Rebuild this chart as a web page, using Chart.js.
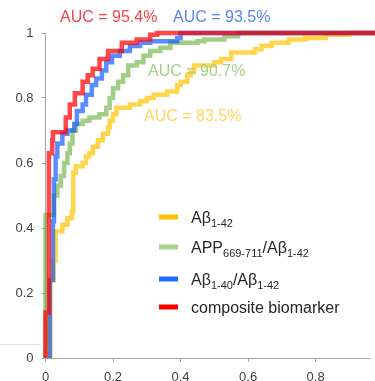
<!DOCTYPE html>
<html>
<head>
<meta charset="utf-8">
<script src="https://cdn.jsdelivr.net/npm/chart.js@4/dist/chart.umd.min.js"></script>
<style>
  html, body { margin: 0; padding: 0; background: #fff; }
  #wrap { width: 375px; height: 381px; }
</style>
</head>
<body>
<div id="wrap"><canvas id="roc" width="375" height="381"></canvas></div>
<script>
// ROC curves, [false positive rate, true positive rate], corners of each step
const compositePts = [[0,0],[0,0.14],[0.01,0.63],[0.02,0.67],[0.022,0.695],[0.06,0.74],[0.072,0.78],[0.087,0.815],
    [0.11,0.85],[0.125,0.87],[0.14,0.89],[0.16,0.92],[0.185,0.945],[0.226,0.97],[0.27,0.98],[0.31,0.995],[0.33,1],[0.99,1]];
const ratio4042Pts = [[0.013,0],[0.013,0.24],[0.022,0.42],[0.025,0.55],[0.03,0.62],[0.035,0.66],[0.05,0.69],[0.065,0.7],
    [0.085,0.72],[0.093,0.76],[0.11,0.78],[0.12,0.81],[0.137,0.84],[0.15,0.86],[0.167,0.885],[0.18,0.91],[0.197,0.93],
    [0.22,0.945],[0.25,0.96],[0.28,0.97],[0.31,0.975],[0.39,0.985],[0.4,1],[0.99,1]];
const appRatioPts = [[0,0],[0,0.44],[0.025,0.5],[0.035,0.53],[0.045,0.56],[0.055,0.6],[0.065,0.63],[0.072,0.66],[0.08,0.7],
    [0.09,0.72],[0.11,0.73],[0.13,0.74],[0.16,0.75],[0.18,0.77],[0.19,0.8],[0.2,0.83],[0.215,0.85],[0.23,0.87],[0.245,0.9],
    [0.27,0.91],[0.29,0.93],[0.31,0.945],[0.34,0.955],[0.37,0.97],[0.45,0.975],[0.47,0.98],[0.53,0.99],[0.57,1],[0.99,1]];
const ab42Pts = [[0.014,0],[0.014,0.24],[0.024,0.3],[0.03,0.39],[0.05,0.41],[0.065,0.43],[0.078,0.45],[0.082,0.57],[0.09,0.59],[0.11,0.6],[0.12,0.62],
    [0.13,0.63],[0.14,0.65],[0.155,0.67],[0.17,0.69],[0.185,0.71],[0.19,0.73],[0.2,0.75],[0.21,0.77],[0.25,0.78],[0.28,0.79],
    [0.3,0.8],[0.32,0.81],[0.36,0.82],[0.39,0.84],[0.4,0.85],[0.42,0.87],[0.43,0.88],[0.44,0.9],[0.5,0.91],[0.52,0.92],
    [0.55,0.94],[0.62,0.95],[0.64,0.96],[0.67,0.97],[0.72,0.98],[0.77,0.985],[0.83,0.995],[0.9,1],[0.99,1]];

const xTicks = [0, 0.2, 0.4, 0.6, 0.8];
const yTicks = [0, 0.2, 0.4, 0.6, 0.8, 1];

// AUC labels: text, colour, left x, centre y (px)
const aucLabels = [
    ['AUC = 95.4%', '#f2474c', 60, 18],
    ['AUC = 93.5%', '#5a82f4', 173, 18],
    ['AUC = 90.7%', '#a4d08a', 148, 72],
    ['AUC = 83.5%', '#ffd45e', 144, 117]
];

// legend entries: pieces of [text, isSubscript]
const legendItems = [
    { color: '#ffc000', parts: [['Aβ', 0], ['1-42', 1]] },
    { color: '#a9d18e', parts: [['APP', 0], ['669-711', 1], ['/Aβ', 0], ['1-42', 1]] },
    { color: '#1f6fff', parts: [['Aβ', 0], ['1-40', 1], ['/Aβ', 0], ['1-42', 1]] },
    { color: '#ff0000', parts: [['composite biomarker', 0]] }
];
const legendRows = [217, 247, 279, 307];

const FONT = '"Liberation Sans", Arial, sans-serif';

const toXY = pts => pts.map(p => ({ x: p[0], y: p[1] }));

const overlayPlugin = {
    id: 'overlay',
    afterDraw(chart) {
        const ctx = chart.ctx;
        ctx.save();
        // faint rule left of the origin
        ctx.strokeStyle = '#e4e4e4';
        ctx.lineWidth = 1;
        ctx.beginPath();
        ctx.moveTo(0, 344.5);
        ctx.lineTo(41, 344.5);
        ctx.stroke();

        ctx.textBaseline = 'middle';
        ctx.textAlign = 'left';
        ctx.font = '16px ' + FONT;
        aucLabels.forEach(a => {
            ctx.fillStyle = a[1];
            ctx.fillText(a[0], a[2], a[3]);
        });

        legendItems.forEach((item, i) => {
            const y = legendRows[i];
            ctx.fillStyle = item.color;
            ctx.fillRect(159, y - 2.5, 19, 5);
            let x = 191;
            ctx.fillStyle = '#262626';
            ctx.textBaseline = 'alphabetic';
            item.parts.forEach(p => {
                if (p[1]) {
                    ctx.font = '11px ' + FONT;
                    ctx.fillText(p[0], x, y + 10);
                } else {
                    ctx.font = '16px ' + FONT;
                    ctx.fillText(p[0], x, y + 6);
                }
                x += ctx.measureText(p[0]).width;
            });
        });
        ctx.restore();
    }
};

const mkSet = (label, pts, color) => ({
    label: label,
    data: toXY(pts),
    borderColor: color,
    backgroundColor: color,
    borderWidth: 4.5,
    pointRadius: 0,
    stepped: 'before',
    fill: false,
    clip: false
});

new Chart(document.getElementById('roc'), {
    type: 'line',
    data: {
        datasets: [
            mkSet('composite biomarker', compositePts, 'rgba(255,0,0,0.72)'),
            mkSet('Aβ1-40/Aβ1-42', ratio4042Pts, 'rgba(0,80,255,0.65)'),
            mkSet('APP669-711/Aβ1-42', appRatioPts, 'rgba(112,180,70,0.65)'),
            mkSet('Aβ1-42', ab42Pts, 'rgba(255,195,0,0.7)')
        ]
    },
    options: {
        responsive: false,
        devicePixelRatio: 1,
        animation: false,
        layout: { padding: { top: 33, right: 5, left: 0, bottom: 0 } },
        plugins: { legend: { display: false }, tooltip: { enabled: false } },
        scales: {
            x: {
                type: 'linear',
                min: 0,
                max: 0.961,
                afterBuildTicks: s => { s.ticks = xTicks.map(v => ({ value: v })); },
                afterFit: s => { s.height = 23; },
                ticks: { color: '#404040', font: { family: FONT, size: 13 }, padding: 8, maxRotation: 0,
                    callback: v => String(v) },
                grid: { drawOnChartArea: false, tickLength: 4, color: '#a6a6a6' },
                border: { color: '#a6a6a6', width: 1 }
            },
            y: {
                type: 'linear',
                min: 0,
                max: 1,
                afterBuildTicks: s => { s.ticks = yTicks.map(v => ({ value: v })); },
                afterFit: s => { s.width = 45.5; },
                ticks: { color: '#404040', font: { family: FONT, size: 13 }, padding: 8,
                    callback: v => String(v) },
                grid: { drawOnChartArea: false, tickLength: 4, color: '#a6a6a6' },
                border: { color: '#a6a6a6', width: 1 }
            }
        }
    },
    plugins: [overlayPlugin]
});
</script>
</body>
</html>
